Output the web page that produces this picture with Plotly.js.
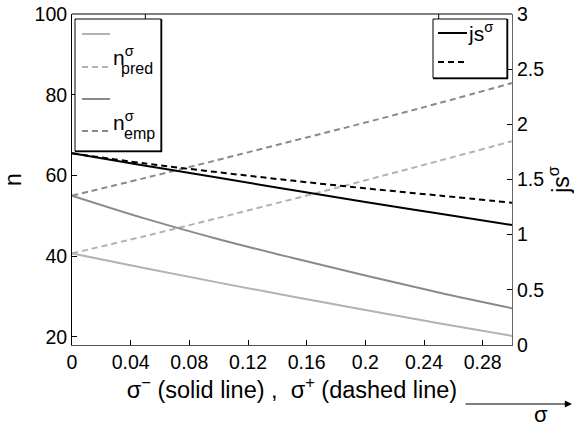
<!DOCTYPE html>
<html>
<head>
<meta charset="utf-8">
<script src="https://cdn.plot.ly/plotly-3.0.1.min.js"></script>
<style>html,body{margin:0;padding:0;background:#fff;}#chart{width:574px;height:423px;}</style>
</head>
<body>
<div id="chart"></div>
<script>
// ---- data ----
const sigma = [0, 0.05, 0.10, 0.15, 0.20, 0.25, 0.30];
const nPredMinus = [40.7, 37.0, 33.45, 30.0, 26.65, 23.4, 20.25];
const nPredPlus  = [40.7, 45.0, 49.5, 54.1, 58.8, 63.6, 68.5];
const nEmpMinus  = [55.0, 49.3, 44.2, 39.6, 35.2, 31.0, 27.1];
const nEmpPlus   = [55.0, 59.4, 63.9, 68.5, 73.1, 77.9, 82.9];
const jsMinus    = [1.737, 1.625, 1.515, 1.405, 1.297, 1.192, 1.088];
const jsPlus     = [1.737, 1.645, 1.565, 1.49, 1.42, 1.355, 1.29];
const xTickVals = [0, 0.04, 0.08, 0.12, 0.16, 0.2, 0.24, 0.28];
const xTickText = ['0', '0.04', '0.08', '0.12', '0.16', '0.2', '0.24', '0.28'];
const yTickVals = [20, 40, 60, 80, 100];
const y2TickVals = [0, 0.5, 1, 1.5, 2, 2.5, 3];
const y2TickText = ['0', '0.5', '1', '1.5', '2', '2.5', '3'];
const topTicks = [0.05, 0.25];

// ---- styles ----
const LIGHT = '#b2b2b2', MID = '#8a8a8a', BLACK = '#000000';
const FONT = 'Liberation Sans, Arial, Helvetica, sans-serif';
const DASH = '6px,4px';
const W = 574, H = 423, L = 72, R = 512, T = 14, B = 345;
const px = x => (x - L) / (R - L);
const py = y => (B - y) / (B - T);

function tr(y, color, dash, axis, name) {
  return {x: sigma, y: y, type: 'scatter', mode: 'lines', name: name, yaxis: axis,
          line: {color: color, width: 2, dash: dash, shape: 'spline', smoothing: 1},
          showlegend: false, hoverinfo: 'skip'};
}
const data = [
  tr(nPredMinus, LIGHT, 'solid', 'y', 'n pred σ-'),
  tr(nPredPlus, LIGHT, DASH, 'y', 'n pred σ+'),
  tr(nEmpMinus, MID, 'solid', 'y', 'n emp σ-'),
  tr(nEmpPlus, MID, DASH, 'y', 'n emp σ+'),
  tr(jsMinus, BLACK, 'solid', 'y2', 'js σ-'),
  tr(jsPlus, BLACK, DASH, 'y2', 'js σ+')
];

function seg(x0, y0, x1, y1, color, width, dash) {
  return {type: 'line', xref: 'paper', yref: 'paper', x0: px(x0), y0: py(y0), x1: px(x1), y1: py(y1),
          line: {color: color, width: width, dash: dash || 'solid'}, layer: 'above'};
}
function box(x0, y0, x1, y1) {
  return [
    {type: 'rect', xref: 'paper', yref: 'paper', x0: px(x0), y0: py(y0), x1: px(x1), y1: py(y1),
     line: {color: '#000', width: 1}, fillcolor: '#fff', layer: 'above'},
    seg(x1 + 0.5, y0, x1 + 0.5, y1 + 1, '#000', 1.5),
    seg(x0, y1 + 0.5, x1 + 1, y1 + 0.5, '#000', 1.5)
  ];
}
const shapes = [].concat(
  [seg(L, T, R, T, '#000', 1)],
  topTicks.map(v => ({type: 'line', xref: 'x', yref: 'paper', x0: v, x1: v, y0: 1, y1: py(T + 5),
                      line: {color: '#000', width: 1}})),
  box(75, 19, 161, 151),
  [seg(82, 34, 110, 34, LIGHT, 2), seg(82, 67, 110, 67, LIGHT, 2, DASH),
   seg(82, 99, 110, 99, MID, 2), seg(82, 131, 110, 131, MID, 2, DASH)],
  box(433, 19, 507, 78),
  [seg(438, 33, 467, 33, BLACK, 2), seg(438, 62, 467, 62, BLACK, 2, DASH)]
);

function txt(x, y, text, size, anchor) {
  return {xref: 'paper', yref: 'paper', x: px(x), y: py(y), text: text, showarrow: false,
          xanchor: anchor || 'left', yanchor: 'middle', font: {family: FONT, size: size, color: '#000'}};
}
const annotations = [
  txt(111, 56, 'n<sup>σ</sup>', 21),
  txt(119, 68, 'pred', 16),
  txt(111, 121, 'n<sup>σ</sup>', 21),
  txt(122, 133, 'emp', 16),
  txt(466, 32, 'js<sup>σ</sup>', 21),
  {xref: 'paper', yref: 'paper', x: px(572), y: py(404), ax: -108, ay: 0, text: '', showarrow: true,
   arrowhead: 2, arrowsize: 1.2, arrowwidth: 1.2, arrowcolor: '#000'},
  txt(541, 414, 'σ', 22, 'center')
];

const axisCommon = {showgrid: false, zeroline: false, showline: true, ticks: 'inside', ticklen: 5,
                    tickwidth: 1, tickcolor: '#000', tickfont: {family: FONT, size: 19.5, color: '#000'}};
const layout = {
  width: W, height: H,
  margin: {l: L, r: W - R, t: T, b: H - B, pad: 0},
  paper_bgcolor: '#fff', plot_bgcolor: '#fff',
  showlegend: false,
  xaxis: Object.assign({}, axisCommon, {range: [0, 0.3], tickvals: xTickVals, ticktext: xTickText,
    linecolor: '#555', title: {text: 'σ<sup>−</sup> (solid line) ,  σ<sup>+</sup> (dashed line)',
    font: {family: FONT, size: 23.5, color: '#000'}, standoff: 2}}),
  yaxis: Object.assign({}, axisCommon, {range: [18, 100], tickvals: yTickVals, linecolor: '#000',
    title: {text: 'n', font: {family: FONT, size: 23, color: '#000'}, standoff: 8}}),
  yaxis2: Object.assign({}, axisCommon, {range: [0, 3], tickvals: y2TickVals, ticktext: y2TickText,
    overlaying: 'y', side: 'right', linecolor: '#666',
    title: {text: 'js<sup>σ</sup>', font: {family: FONT, size: 23, color: '#000'}, standoff: 6}}),
  shapes: shapes,
  annotations: annotations
};
Plotly.newPlot('chart', data, layout, {displayModeBar: false, staticPlot: true});
</script>
</body>
</html>
